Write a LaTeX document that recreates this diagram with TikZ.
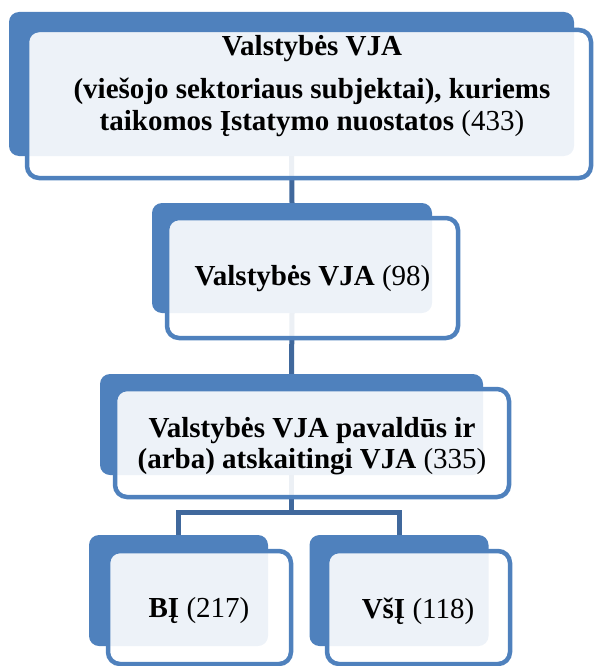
\documentclass[tikz,border=0pt]{standalone}
\usepackage{fontspec}
\setmainfont{Liberation Serif}
\definecolor{smartblue}{RGB}{79,129,189}
\definecolor{linkblue}{RGB}{64,104,156}

\begin{document}
\begin{tikzpicture}[x=1pt, y=-1pt,
    backbox/.style={fill=smartblue, rounded corners=10pt, inner sep=0pt},
    frontbox/.style={draw=smartblue, line width=4.5pt, fill=white, fill opacity=0.9, rounded corners=12pt, inner sep=0pt},
    boxtext/.style={align=center, inner sep=0pt, font=\fontsize{29}{31.5}\selectfont\bfseries},
    link/.style={draw=linkblue, line width=5pt}]
    \useasboundingbox (0,0) rectangle (594,666);

    % back panels
    \node[backbox, minimum width=565pt, minimum height=144pt] (topB) at (291.5,84) {};
    \node[backbox, minimum width=280pt, minimum height=110pt] (midB) at (292,258) {};
    \node[backbox, minimum width=383pt, minimum height=101pt] (subB) at (291.5,424.5) {};
    \node[backbox, minimum width=179pt, minimum height=111pt] (biB) at (178.5,590.5) {};
    \node[backbox, minimum width=179pt, minimum height=111pt] (vsiB) at (399,590.5) {};

    % connectors
    \draw[link] (topB.south) -- (midB.north);
    \draw[link] (midB.south) -- (subB.north);
    \coordinate (fork) at (291.5,512);
    \draw[link] (subB.south) -- (fork);
    \draw[link] (biB.north) |- (fork) -| (vsiB.north);

    % front panels
    \node[frontbox, minimum width=564pt, minimum height=148pt] (topF) at (309,104) {};
    \node[frontbox, minimum width=291pt, minimum height=120pt] (midF) at (312.5,278) {};
    \node[frontbox, minimum width=394pt, minimum height=108pt] (subF) at (312,443) {};
    \node[frontbox, minimum width=183pt, minimum height=113pt] (biF) at (199.5,607.5) {};
    \node[frontbox, minimum width=183pt, minimum height=113pt] (vsiF) at (418.5,607.5) {};

    % texts
    \node[boxtext] (topT) at (312,86) {Valstybės VJA\\[12pt] (viešojo sektoriaus subjektai), kuriems\\ taikomos Įstatymo nuostatos \textmd{(433)}};
    \node[boxtext] (midT) at (312.5,279) {Valstybės VJA \textmd{(98)}};
    \node[boxtext] (subT) at (312,446) {Valstybės VJA pavaldūs ir\\ (arba) atskaitingi VJA \textmd{(335)}};
    \node[boxtext] (biT) at (199,611) {BĮ \textmd{(217)}};
    \node[boxtext] (vsiT) at (418,611) {VšĮ \textmd{(118)}};
\end{tikzpicture}
\end{document}
